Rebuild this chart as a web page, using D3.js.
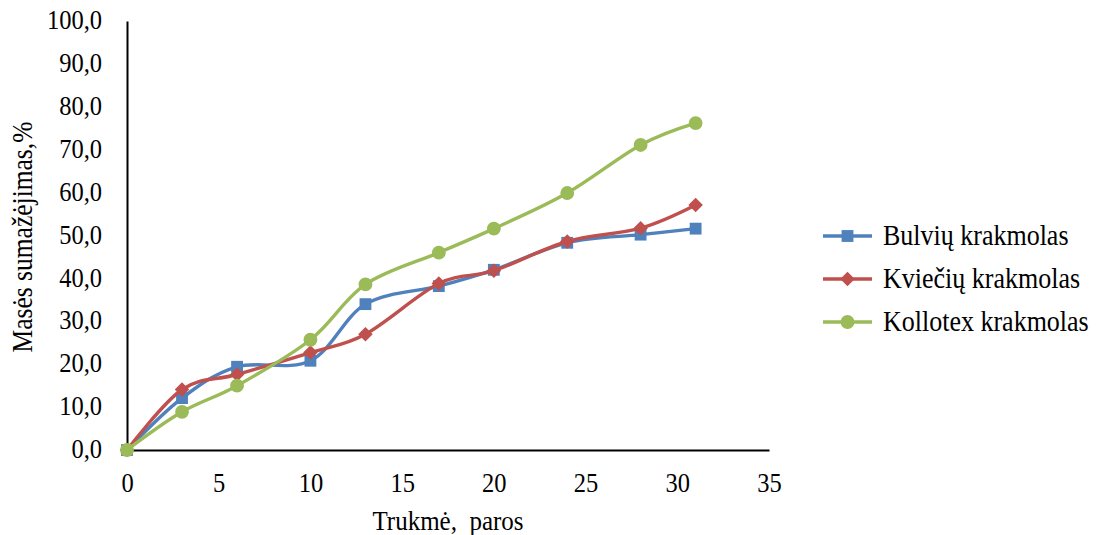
<!DOCTYPE html>
<html>
<head>
<meta charset="utf-8">
<script src="https://cdn.jsdelivr.net/npm/d3@7"></script>
<style>
  html, body { margin: 0; padding: 0; background: #fff; }
  svg { display: block; }
</style>
</head>
<body>
<svg id="chart" width="1097" height="535"></svg>
<script>
// Duration in days
const days = [0, 3, 6, 10, 13, 17, 20, 24, 28, 31];
// Mass loss, %
const bulviu   = [0, 12.1, 19.4, 20.8, 34.0, 38.2, 42.0, 48.3, 50.2, 51.6];
const kvieciu  = [0, 14.1, 17.6, 22.7, 27.0, 38.8, 41.8, 48.6, 51.7, 57.1];
const kollotex = [0, 8.9, 15.0, 25.7, 38.6, 46.0, 51.6, 59.9, 71.1, 76.2];

const seriesNames = ["Bulvių krakmolas", "Kviečių krakmolas", "Kollotex krakmolas"];
const seriesColors = ["#4F81BD", "#C0504D", "#9BBB59"];
const seriesShapes = ["square", "diamond", "circle"];

const xTicks = [0, 5, 10, 15, 20, 25, 30, 35];
const yTicks = [0, 10, 20, 30, 40, 50, 60, 70, 80, 90, 100];

const FONT = "Liberation Serif";
const STRETCH = 1.12; // glyphs are drawn slightly taller than wide

const svg = d3.select("#chart");
const plotLeft = 127, plotRight = 769, plotTop = 21, plotBottom = 450;

const x = d3.scaleLinear().domain([0, 35]).range([plotLeft, plotRight]);
const y = d3.scaleLinear().domain([0, 100]).range([plotBottom, plotTop]);

const fmt = d => d3.format(".1f")(d).replace(".", ",");

function styleText(sel, size) {
  return sel.attr("font-family", FONT).attr("font-size", size).attr("fill", "#000");
}

// Axes
const yAxis = svg.append("g")
  .attr("transform", `translate(${plotLeft},0)`)
  .call(d3.axisLeft(y).tickValues(yTicks).tickSize(0).tickPadding(25).tickFormat(fmt));
const xAxis = svg.append("g")
  .attr("transform", `translate(0,${plotBottom})`)
  .call(d3.axisBottom(x).tickValues(xTicks).tickSize(0).tickPadding(20).tickFormat(d3.format("d")));
[yAxis, xAxis].forEach(g => {
  g.attr("font-family", FONT);
  g.select(".domain").attr("stroke", "#000").attr("stroke-width", 2);
  styleText(g.selectAll("text"), 24.5).attr("transform", `scale(1,${STRETCH})`);
});
// keep y tick labels centred on their values after the vertical stretch
yAxis.selectAll(".tick text").attr("dy", "0.28em");

// Axis titles
styleText(svg.append("text"), 25)
  .attr("transform", `translate(${x(17.5)},530) scale(1,${STRETCH})`)
  .attr("text-anchor", "middle")
  .attr("xml:space", "preserve")
  .style("white-space", "pre")
  .text("Trukmė,  paros");
styleText(svg.append("text"), 25.5)
  .attr("transform", `translate(32,237) rotate(-90) scale(1,${STRETCH})`)
  .attr("text-anchor", "middle")
  .text("Masės sumažėjimas,%");

// Series
const allValues = [bulviu, kvieciu, kollotex];
const line = d3.line()
  .x(d => x(d[0])).y(d => y(d[1]))
  .curve(d3.curveCardinal.tension(0));

// Marker shapes: square, square turned 45° (diamond), circle
const markerPath = {
  square: d3.symbol().type(d3.symbolSquare).size(140)(),
  diamond: d3.symbol().type(d3.symbolSquare).size(105)(),
  circle: d3.symbol().type(d3.symbolCircle).size(150)()
};
const markerRotate = { square: 0, diamond: 45, circle: 0 };

allValues.forEach((vals, i) => {
  const pts = days.map((d, j) => [d, vals[j]]);
  const shape = seriesShapes[i];
  const g = svg.append("g");
  g.append("path")
    .attr("d", line(pts))
    .attr("fill", "none")
    .attr("stroke", seriesColors[i])
    .attr("stroke-width", 3.4)
    .attr("stroke-linejoin", "round");
  g.selectAll("path.marker").data(pts).join("path")
    .attr("class", "marker")
    .attr("transform", d => `translate(${x(d[0])},${y(d[1])}) rotate(${markerRotate[shape]})`)
    .attr("d", markerPath[shape])
    .attr("fill", seriesColors[i]);
});

// Legend
const legend = svg.append("g");
seriesNames.forEach((name, i) => {
  const ly = 236 + i * 43;
  const shape = seriesShapes[i];
  legend.append("line")
    .attr("x1", 823).attr("x2", 872).attr("y1", ly).attr("y2", ly)
    .attr("stroke", seriesColors[i]).attr("stroke-width", 3.4);
  legend.append("path")
    .attr("transform", `translate(847.5,${ly}) rotate(${markerRotate[shape]})`)
    .attr("d", markerPath[shape])
    .attr("fill", seriesColors[i]);
  styleText(legend.append("text"), 26)
    .attr("transform", `translate(883,${ly + 9}) scale(1,${STRETCH})`)
    .text(name);
});
</script>
</body>
</html>
